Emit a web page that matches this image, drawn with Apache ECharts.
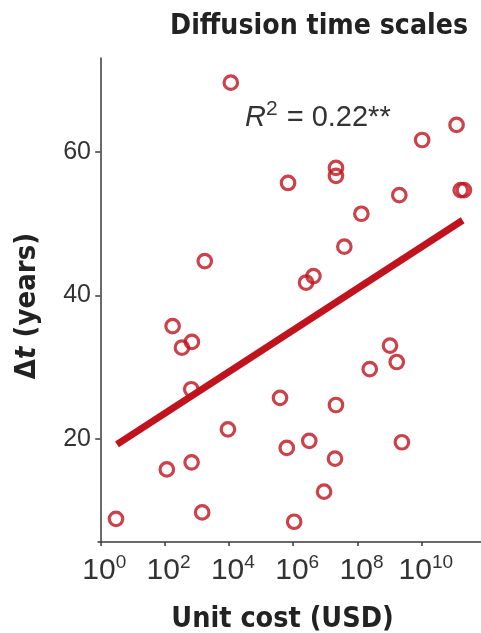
<!DOCTYPE html>
<html>
<head>
<meta charset="utf-8">
<script src="https://cdn.jsdelivr.net/npm/echarts@6/dist/echarts.min.js"></script>
<style>html,body{margin:0;padding:0;background:#fff;}#c{width:481px;height:633px;}</style>
</head>
<body>
<div id="c"></div>
<script>
// log10(unit cost in USD)
const logCost = [0.49, 2.07, 2.25, 2.54, 2.85, 2.83, 2.84, 3.17, 3.25, 3.97, 4.06, 5.59, 5.80, 5.84, 6.03, 6.40, 6.63, 6.50, 6.96, 7.30, 7.33, 7.33, 7.33, 7.59, 8.12, 8.38, 9.01, 9.22, 9.30, 9.38, 10.01, 11.08, 11.21, 11.31];
// diffusion time (years)
const deltaT = [8.8, 15.7, 35.7, 32.7, 33.5, 26.9, 16.7, 9.7, 44.8, 21.3, 69.7, 25.7, 18.7, 55.7, 8.4, 41.8, 42.7, 19.7, 12.6, 17.2, 24.7, 57.8, 56.7, 46.8, 51.4, 29.7, 33.0, 30.7, 54.0, 19.5, 61.7, 63.8, 54.7, 54.7];
// fitted trend line endpoints
const fitLogCost = [0.52, 11.27];
const fitDeltaT = [19.2, 50.5];
const xTicks = [0, 2, 4, 6, 8, 10];
const yTicks = [20, 40, 60];
const r2Text = '0.22**';

const RED = '#c1131d';
const AX = '#3a3a3a';
const FONT = 'Liberation Sans, Arial, sans-serif';
const BFONT = '"DejaVu Sans Condensed", "DejaVu Sans", sans-serif';

const chart = echarts.init(document.getElementById('c'), null, {renderer: 'canvas'});
chart.setOption({
  animation: false,
  backgroundColor: '#fff',
  title: [
    {
      text: 'Diffusion time scales',
      right: 8, top: 8,
      textStyle: {fontFamily: BFONT, fontWeight: 'bold', fontSize: 28.2, color: '#222'}
    },
    {
      text: '{i|R}{s|2}{n| = ' + r2Text + '}',
      left: 240, top: 94,
      textStyle: {
        fontWeight: 'normal',
        rich: {
          i: {fontFamily: FONT, fontStyle: 'italic', fontWeight: 'normal', fontSize: 29, color: '#333'},
          s: {fontFamily: FONT, fontWeight: 'normal', fontSize: 21, color: '#333', padding: [0, 1, 16, 0]},
          n: {fontFamily: FONT, fontWeight: 'normal', fontSize: 29, color: '#333'}
        }
      }
    }
  ],
  grid: {left: 98, right: 0, top: 58, bottom: 91, containLabel: false, outerBoundsMode: 'none'},
  xAxis: {
    type: 'value',
    min: -0.07, max: 11.84,
    splitLine: {show: false},
    axisLine: {lineStyle: {color: AX, width: 1.5}},
    axisTick: {customValues: xTicks, length: 4, lineStyle: {color: AX, width: 1.5}},
    axisLabel: {
      customValues: xTicks,
      margin: 11,
      padding: [0, 0, 0, 8],
      formatter: v => '{b|10}{s|' + v + '}',
      rich: {
        b: {fontFamily: FONT, fontSize: 30, color: '#333'},
        s: {fontFamily: FONT, fontSize: 19, color: '#333', padding: [0, 0, 16, 0]}
      }
    },
    name: '{b|Unit cost (USD)}',
    nameLocation: 'middle',
    nameGap: 63,
    nameTextStyle: {
      padding: [0, 14, 0, 0],
      rich: {b: {fontFamily: BFONT, fontWeight: 'bold', fontSize: 28.5, color: '#222'}}
    }
  },
  yAxis: {
    type: 'value',
    min: 5.57, max: 73.15,
    splitLine: {show: false},
    axisLine: {lineStyle: {color: AX, width: 1.5}},
    axisTick: {customValues: yTicks, length: 5, lineStyle: {color: AX, width: 1.5}},
    axisLabel: {
      customValues: yTicks,
      margin: 7,
      fontFamily: FONT, fontSize: 25, color: '#333'
    },
    name: '{d|Δ}{t|t}{b| (years)}',
    nameLocation: 'middle',
    nameGap: 56,
    nameRotate: 90,
    nameTextStyle: {
      padding: [0, 12, 0, 0],
      rich: {
        d: {fontFamily: BFONT, fontWeight: 'bold', fontSize: 29, color: '#222'},
        t: {fontFamily: BFONT, fontWeight: 'bold', fontStyle: 'italic', fontSize: 29, color: '#222'},
        b: {fontFamily: BFONT, fontWeight: 'bold', fontSize: 29, color: '#222'}
      }
    }
  },
  series: [
    {
      type: 'line',
      data: fitLogCost.map((x, i) => [x, fitDeltaT[i]]),
      symbol: 'none',
      lineStyle: {color: RED, width: 7, cap: 'butt'},
      z: 3
    },
    {
      type: 'scatter',
      data: logCost.map((x, i) => [x, deltaT[i]]),
      symbol: 'circle',
      symbolSize: 13.5,
      itemStyle: {color: 'rgba(0,0,0,0)', borderColor: RED, borderWidth: 3.2},
      z: 4
    }
  ]
});
</script>
</body>
</html>
